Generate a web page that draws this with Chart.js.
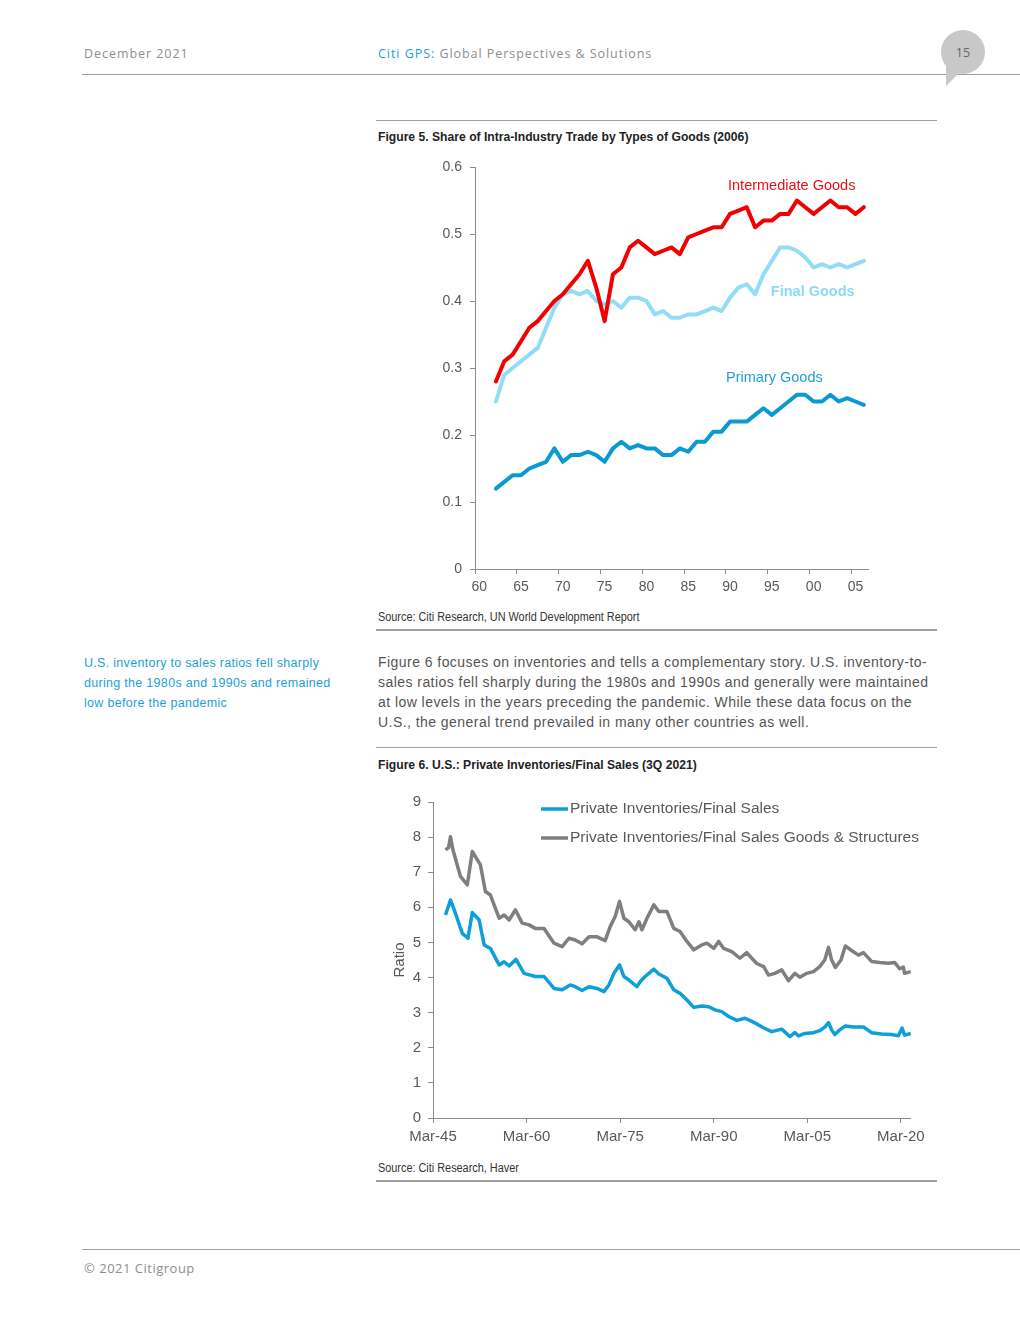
<!DOCTYPE html>
<html>
<head>
<meta charset="utf-8">
<script src="https://cdn.jsdelivr.net/npm/chart.js@4.4.1/dist/chart.umd.min.js"></script>
<style>
  body { margin: 0; background: #fff; }
  #page { position: relative; width: 1020px; height: 1320px; overflow: hidden; font-family: "Liberation Sans", Arial, sans-serif; }
  .abs { position: absolute; white-space: nowrap; }
  .hdr { font-family: "Open Sans", sans-serif; font-size: 12.5px; letter-spacing: 0.95px; color: #8e8e8e; }
  .rule { position: absolute; background: #a0a0a0; }
  .figtitle { font-family: "Liberation Sans Narrow", "Arial Narrow", "Liberation Sans", sans-serif; font-weight: bold; font-size: 13.5px; color: #222; transform: scaleX(0.9); transform-origin: 0 50%; }
  .source { font-family: "Liberation Sans Narrow", "Arial Narrow", "Liberation Sans", sans-serif; font-size: 12.5px; color: #333; transform: scaleX(0.87); transform-origin: 0 50%; }
  .side { font-size: 12.5px; letter-spacing: 0.3px; color: #1d9fd6; line-height: 20px; }
  .body { font-size: 14px; letter-spacing: 0.45px; color: #555; line-height: 20px; }
  .chartbox { position: absolute; }
</style>
</head>
<body>
<div id="page">
  <div class="abs hdr" style="left:84px; top:45px;">December 2021</div>
  <div class="abs hdr" style="left:378px; top:45px;"><span style="color:#1d9fd6;">Citi GPS:</span> Global Perspectives &amp; Solutions</div>
  <div class="rule" style="left:82px; top:74px; width:938px; height:1px;"></div>
  <div class="abs" style="left:941px; top:30px; width:44px; height:44px; border-radius:50%; background:#c8c8c8;"></div>
  <div class="abs" style="left:946px; top:66px; width:0; height:0; border-left:0 solid transparent; border-right:20px solid transparent; border-top:20px solid #c8c8c8;"></div>
  <div class="abs" style="left:941px; top:44px; width:44px; text-align:center; font-family:'Open Sans',sans-serif; font-size:12.5px; color:#666;">15</div>

  <div class="rule" style="left:376px; top:120px; width:561px; height:1px;"></div>
  <div class="abs figtitle" style="left:378px; top:129px;">Figure 5. Share of Intra-Industry Trade by Types of Goods (2006)</div>
  <div class="chartbox" style="left:400px; top:150px; width:490px; height:450px;"><canvas id="chart1"></canvas></div>
  <div class="abs source" style="left:378px; top:610px;">Source: Citi Research, UN World Development Report</div>
  <div class="rule" style="left:376px; top:629px; width:561px; height:2px;"></div>

  <div class="abs side" style="left:84px; top:653px;">U.S. inventory to sales ratios fell sharply<br>during the 1980s and 1990s and remained<br>low before the pandemic</div>
  <div class="abs body" style="left:378px; top:652px;">Figure 6 focuses on inventories and tells a complementary story. U.S. inventory-to-<br>sales ratios fell sharply during the 1980s and 1990s and generally were maintained<br>at low levels in the years preceding the pandemic. While these data focus on the<br>U.S., the general trend prevailed in many other countries as well.</div>

  <div class="rule" style="left:376px; top:747px; width:561px; height:1px;"></div>
  <div class="abs figtitle" style="left:378px; top:757px;">Figure 6. U.S.: Private Inventories/Final Sales (3Q 2021)</div>
  <div class="chartbox" style="left:380px; top:785px; width:550px; height:370px;"><canvas id="chart2"></canvas></div>
  <div class="abs source" style="left:378px; top:1161px;">Source: Citi Research, Haver</div>
  <div class="rule" style="left:376px; top:1180px; width:561px; height:2px;"></div>

  <div class="rule" style="left:82px; top:1249px; width:938px; height:1px;"></div>
  <div class="abs hdr" style="left:84px; top:1259px; font-size:13px; letter-spacing:0.5px;">© 2021 Citigroup</div>
</div>

<script>
// Figure 5 - share of intra-industry trade, annual 1960-2006
const years = [1960, 1961, 1962, 1963, 1964, 1965, 1966, 1967, 1968, 1969,
  1970, 1971, 1972, 1973, 1974, 1975, 1976, 1977, 1978, 1979,
  1980, 1981, 1982, 1983, 1984, 1985, 1986, 1987, 1988, 1989,
  1990, 1991, 1992, 1993, 1994, 1995, 1996, 1997, 1998, 1999,
  2000, 2001, 2002, 2003, 2004, 2005, 2006];
const intermediateGoods = [null, null, 0.28, 0.31, 0.32, 0.34, 0.36, 0.37, 0.385, 0.40,
  0.41, 0.425, 0.44, 0.46, 0.42, 0.37, 0.44, 0.45, 0.48, 0.49,
  0.48, 0.47, 0.475, 0.48, 0.47, 0.495, 0.50, 0.505, 0.51, 0.51,
  0.53, 0.535, 0.54, 0.51, 0.52, 0.52, 0.53, 0.53, 0.55, 0.54,
  0.53, 0.54, 0.55, 0.54, 0.54, 0.53, 0.54];
const finalGoods = [null, null, 0.25, 0.29, 0.30, 0.31, 0.32, 0.33, 0.36, 0.39,
  0.41, 0.415, 0.41, 0.415, 0.40, 0.395, 0.40, 0.39, 0.405, 0.405,
  0.40, 0.38, 0.385, 0.375, 0.375, 0.38, 0.38, 0.385, 0.39, 0.385,
  0.405, 0.42, 0.425, 0.41, 0.44, 0.46, 0.48, 0.48, 0.475, 0.465,
  0.45, 0.455, 0.45, 0.455, 0.45, 0.455, 0.46];
const primaryGoods = [null, null, 0.12, 0.13, 0.14, 0.14, 0.15, 0.155, 0.16, 0.18,
  0.16, 0.17, 0.17, 0.175, 0.17, 0.16, 0.18, 0.19, 0.18, 0.185,
  0.18, 0.18, 0.17, 0.17, 0.18, 0.175, 0.19, 0.19, 0.205, 0.205,
  0.22, 0.22, 0.22, 0.23, 0.24, 0.23, 0.24, 0.25, 0.26, 0.26,
  0.25, 0.25, 0.26, 0.25, 0.255, 0.25, 0.245];

// Figure 6 - inventories / final sales (dates as decimal years)
const invDates = [1947.0, 1947.8, 1948.4, 1949.7, 1950.6, 1951.3, 1952.4, 1953.2, 1954.2, 1955.6,
  1956.4, 1957.2, 1958.3, 1959.6, 1960.6, 1961.4, 1962.8, 1964.4, 1965.7, 1967.0,
  1967.8, 1968.9, 1970.0, 1971.3, 1972.4, 1973.2, 1974.0, 1974.9, 1975.6, 1976.4,
  1977.7, 1978.2, 1979.0, 1980.4, 1981.2, 1982.5, 1983.6, 1984.6, 1985.7, 1986.8,
  1988.1, 1989.2, 1990.2, 1991.3, 1992.4, 1993.7, 1995.0, 1996.1, 1996.9, 1998.2,
  1999.3, 2000.9, 2002.2, 2003.0, 2003.6, 2004.6, 2006.0, 2007.0, 2007.8, 2008.4,
  2008.9, 2009.4, 2010.2, 2011.1, 2012.4, 2014.0, 2015.3, 2016.9, 2018.5, 2019.6,
  2020.2, 2020.6, 2021.6];
const invValues = [5.78, 6.21, 5.93, 5.26, 5.12, 5.85, 5.64, 4.93, 4.83, 4.36,
  4.45, 4.33, 4.52, 4.12, 4.07, 4.03, 4.03, 3.69, 3.65, 3.79,
  3.74, 3.63, 3.74, 3.69, 3.60, 3.79, 4.12, 4.36, 4.03, 3.93,
  3.74, 3.88, 4.03, 4.24, 4.10, 3.98, 3.65, 3.55, 3.36, 3.15,
  3.19, 3.17, 3.08, 3.03, 2.89, 2.78, 2.84, 2.75, 2.68, 2.55,
  2.46, 2.53, 2.32, 2.43, 2.34, 2.41, 2.43, 2.49, 2.59, 2.72,
  2.51, 2.38, 2.51, 2.62, 2.59, 2.59, 2.43, 2.39, 2.38, 2.34,
  2.56, 2.36, 2.41];
const gsDates = [1947.0, 1947.5, 1947.8, 1948.2, 1949.4, 1950.5, 1951.3, 1952.6, 1953.4, 1954.2,
  1955.6, 1956.4, 1957.2, 1958.2, 1959.3, 1960.4, 1961.4, 1962.8, 1964.4, 1965.7,
  1966.8, 1967.8, 1968.9, 1970.0, 1971.3, 1972.6, 1973.4, 1974.2, 1974.9, 1975.6,
  1976.4, 1977.4, 1978.0, 1978.5, 1979.3, 1980.4, 1981.2, 1982.5, 1983.6, 1984.6,
  1985.7, 1986.8, 1988.1, 1988.9, 1990.0, 1990.8, 1991.6, 1992.9, 1994.2, 1995.3,
  1996.1, 1996.9, 1998.0, 1998.8, 1999.8, 2000.9, 2002.0, 2003.0, 2003.8, 2004.9,
  2006.0, 2007.0, 2007.8, 2008.4, 2008.9, 2009.5, 2010.4, 2011.1, 2012.1, 2013.2,
  2014.0, 2015.3, 2016.6, 2018.0, 2019.0, 2019.8, 2020.4, 2020.6, 2021.6];
const gsValues = [7.64, 7.7, 8.01, 7.64, 6.88, 6.64, 7.59, 7.21, 6.45, 6.35,
  5.69, 5.78, 5.64, 5.93, 5.55, 5.50, 5.40, 5.40, 4.98, 4.88,
  5.12, 5.07, 4.96, 5.16, 5.16, 5.05, 5.45, 5.74, 6.17, 5.69,
  5.59, 5.36, 5.59, 5.36, 5.69, 6.07, 5.88, 5.88, 5.40, 5.31,
  5.03, 4.79, 4.93, 4.98, 4.83, 5.03, 4.83, 4.74, 4.55, 4.71,
  4.55, 4.40, 4.31, 4.07, 4.12, 4.22, 3.91, 4.12, 4.01, 4.12,
  4.17, 4.31, 4.50, 4.86, 4.50, 4.29, 4.50, 4.90, 4.77, 4.64,
  4.71, 4.46, 4.43, 4.41, 4.43, 4.25, 4.30, 4.12, 4.17];
const fig6Ticks = [1945, 1960, 1975, 1990, 2005, 2020];
const fig6TickLabels = ['Mar-45', 'Mar-60', 'Mar-75', 'Mar-90', 'Mar-05', 'Mar-20'];

Chart.defaults.font.family = '"Liberation Sans", Arial, sans-serif';
Chart.defaults.color = '#595959';
const axisGrey = '#8c8c8c';

// text labels sitting next to the lines in figure 5
const lineLabels = {
  id: 'lineLabels',
  afterDatasetsDraw(chart) {
    const { ctx, scales: { x, y } } = chart;
    ctx.save();
    ctx.textBaseline = 'middle';
    ctx.textAlign = 'left';
    chart.data.datasets.forEach(ds => {
      const l = ds.lineLabel;
      ctx.font = (l.bold ? 'bold ' : '') + '14.5px "Liberation Sans", Arial, sans-serif';
      ctx.fillStyle = l.color;
      ctx.fillText(ds.label, x.getPixelForValue(l.at) + l.dx, y.getPixelForValue(l.value));
    });
    ctx.restore();
  }
};

new Chart(document.getElementById('chart1'), {
  type: 'line',
  data: {
    labels: years,
    datasets: [
      { label: 'Intermediate Goods', data: intermediateGoods, borderColor: '#f00000', borderWidth: 4,
        lineLabel: { at: 30, dx: -2, value: 0.572, color: '#e8101a' } },
      { label: 'Final Goods', data: finalGoods, borderColor: '#92dcf8', borderWidth: 4,
        lineLabel: { at: 35, dx: -1, value: 0.413, color: '#8fd8f6', bold: true } },
      { label: 'Primary Goods', data: primaryGoods, borderColor: '#0a9ad1', borderWidth: 4,
        lineLabel: { at: 30, dx: -4, value: 0.285, color: '#1f9ed3' } }
    ]
  },
  options: {
    responsive: true,
    maintainAspectRatio: false,
    animation: false,
    layout: { padding: { top: 17, right: 22, left: 0, bottom: 0 } },
    elements: { point: { radius: 0 }, line: { tension: 0, borderJoinStyle: 'round', borderCapStyle: 'round' } },
    plugins: { legend: { display: false }, tooltip: { enabled: false } },
    scales: {
      x: {
        type: 'category',
        offset: true,
        border: { display: true, color: axisGrey, width: 1 },
        grid: {
          offset: true, drawOnChartArea: false, tickLength: 5,
          tickColor: c => (c.index % 5 === 0 ? axisGrey : 'rgba(0,0,0,0)')
        },
        ticks: {
          autoSkip: false, maxRotation: 0, padding: 5, font: { size: 14 },
          callback: (v, i) => (years[i] % 5 === 0 ? String(years[i]).slice(2) : '')
        },
        afterFit: s => { s.height = 31; }
      },
      y: {
        min: 0, max: 0.6,
        border: { display: true, color: axisGrey, width: 1 },
        grid: { drawOnChartArea: false, tickLength: 5, tickColor: axisGrey },
        ticks: { stepSize: 0.1, padding: 8, font: { size: 14 },
          callback: v => (v === 0 ? '0' : v.toFixed(1)) },
        afterFit: s => { s.width = 75; }
      }
    }
  },
  plugins: [lineLabels]
});

// legend drawn inside the plot area, line sample followed by text
const insideLegend = {
  id: 'insideLegend',
  afterDraw(chart) {
    const { ctx, chartArea } = chart;
    ctx.save();
    ctx.font = '15.5px "Liberation Sans", Arial, sans-serif';
    ctx.textBaseline = 'middle';
    chart.data.datasets.forEach((ds, i) => {
      const lx = chartArea.left + 108;
      const ly = chartArea.top + 7 + i * 29;
      ctx.strokeStyle = ds.borderColor;
      ctx.lineWidth = 3.5;
      ctx.beginPath();
      ctx.moveTo(lx, ly);
      ctx.lineTo(lx + 27, ly);
      ctx.stroke();
      ctx.fillStyle = '#595959';
      ctx.fillText(ds.label, lx + 29, ly);
    });
    ctx.restore();
  }
};

new Chart(document.getElementById('chart2'), {
  type: 'line',
  data: {
    datasets: [
      { label: 'Private Inventories/Final Sales', borderColor: '#0c9fd8', borderWidth: 3.5,
        data: invDates.map((d, i) => ({ x: d, y: invValues[i] })) },
      { label: 'Private Inventories/Final Sales Goods & Structures', borderColor: '#7f7f7f', borderWidth: 3.5,
        data: gsDates.map((d, i) => ({ x: d, y: gsValues[i] })) }
    ]
  },
  options: {
    responsive: true,
    maintainAspectRatio: false,
    animation: false,
    layout: { padding: { top: 17, right: 18, left: 0, bottom: 0 } },
    elements: { point: { radius: 0 }, line: { tension: 0, borderJoinStyle: 'round' } },
    plugins: { legend: { display: false }, tooltip: { enabled: false } },
    scales: {
      x: {
        type: 'linear', min: 1945, max: 2021.6,
        border: { display: true, color: axisGrey, width: 1 },
        grid: { drawOnChartArea: false, tickLength: 5, tickColor: axisGrey },
        afterBuildTicks: s => { s.ticks = fig6Ticks.map(v => ({ value: v })); },
        ticks: { maxRotation: 0, padding: 5, font: { size: 15 },
          callback: v => fig6TickLabels[fig6Ticks.indexOf(v)] },
        afterFit: s => { s.height = 37; }
      },
      y: {
        min: 0, max: 9,
        border: { display: true, color: axisGrey, width: 1 },
        grid: { drawOnChartArea: false, tickLength: 5, tickColor: axisGrey },
        ticks: { stepSize: 1, padding: 7, font: { size: 15 } },
        title: { display: true, text: 'Ratio', font: { size: 15 }, padding: { top: 11, bottom: 0 } },
        afterFit: s => { s.width = 53; }
      }
    }
  },
  plugins: [insideLegend]
});
</script>
</body>
</html>
